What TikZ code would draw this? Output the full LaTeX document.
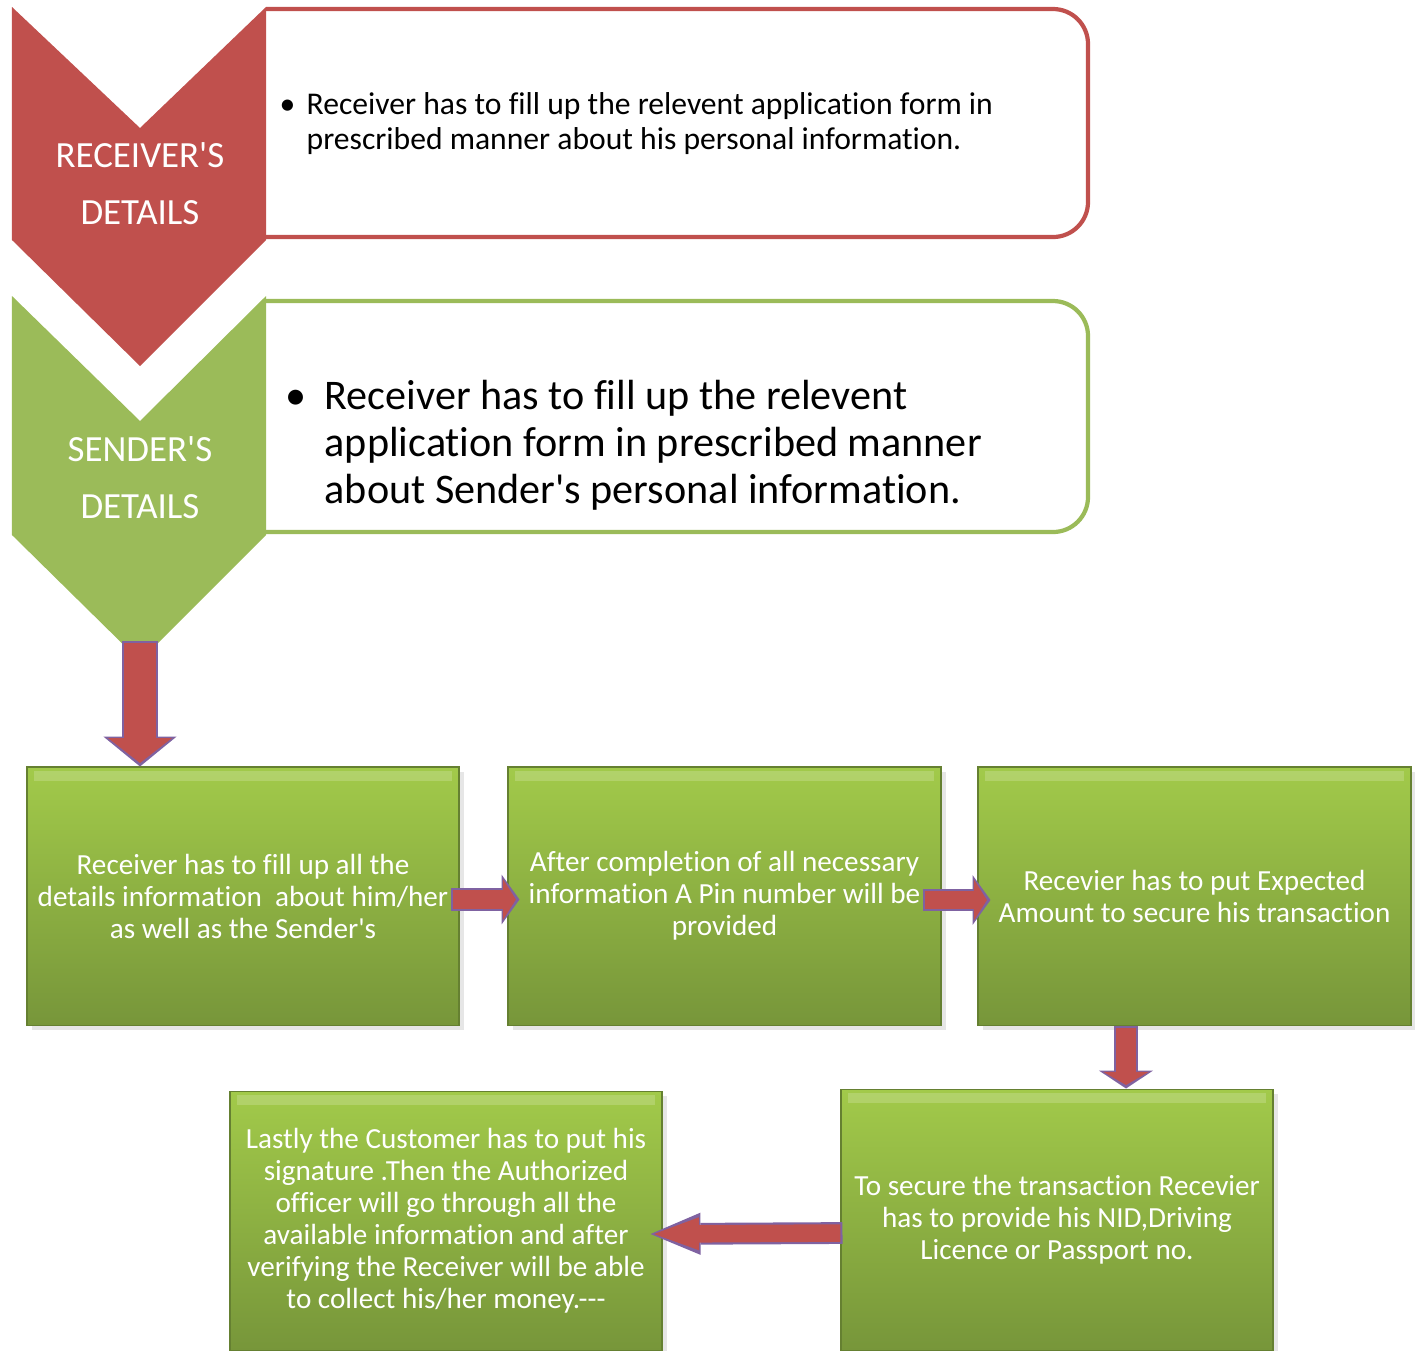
\documentclass[tikz,border=0pt]{standalone}
\usepackage{fontspec}
\setmainfont{Carlito}[Ligatures={TeXOff,NoCommon}]
\usetikzlibrary{arrows.meta,shadows}

\definecolor{recred}{HTML}{C0504D}
\definecolor{sendgreen}{HTML}{9BBB59}
\definecolor{arrowline}{HTML}{7F62A1}
\definecolor{boxtop}{HTML}{A2CA4A}
\definecolor{boxbot}{HTML}{77963A}

% block arrow: shaft, head width, head length, from, to
\newcommand{\flowarrow}[5]{%
  \pgfmathsetlengthmacro\fawid{#1-1.2pt}%
  \pgfmathsetlengthmacro\fahw{#2-2.6pt}%
  \pgfmathsetlengthmacro\fahl{#3-1.4pt}%
  \draw[arrowline, line width=#1, -{Triangle[width=#2,length=#3,line width=0pt]}] (#4) -- (#5);
  \draw[recred, line width=\fawid, shorten <=0.6pt, shorten >=1pt,
        -{Triangle[width=\fahw,length=\fahl,line width=0pt]}] (#4) -- (#5);
}

\begin{document}
\begin{tikzpicture}[x=1cm,y=-1cm]
	\tikzset{
	  stepbox/.style={rectangle, minimum width=4.32cm, minimum height=2.58cm,
	    top color=boxtop, bottom color=boxbot, draw=boxbot!85!black, line width=0.3pt,
	    text=white, align=center, inner sep=0pt, font=\fontsize{8.3}{9.1}\selectfont,
	    drop shadow={shadow xshift=1.5pt, shadow yshift=-1.5pt, opacity=0.2},
	    path picture={\fill[white, opacity=0.18]
	      ([xshift=2pt,yshift=-1pt]path picture bounding box.north west) rectangle
	      ([xshift=-2pt,yshift=-4pt]path picture bounding box.north east);}},
	  chevlabel/.style={text=white, align=center, inner sep=0pt, font=\fontsize{10.5}{16.2}\selectfont},
	  infotext/.style={anchor=west, align=left, inner sep=0pt, text=black}
	}
	\useasboundingbox (0,0) rectangle (14.15,13.5);

	% receiver's details
	\draw[recred, line width=1.2pt, rounded corners=0.35cm] (2.66,0.09) -- (10.88,0.09) -- (10.88,2.37) -- (2.66,2.37);
	\fill[recred] (0.12,0.07) -- (1.40,1.28) -- (2.66,0.07) -- (2.66,2.40) -- (1.40,3.66) -- (0.12,2.40) -- cycle;
	\node[chevlabel] (recvlabel) at (1.40,1.835) {RECEIVER'S\\DETAILS};
	\node[infotext, font=\fontsize{9}{10}\selectfont] (recvtext) at (3.06,1.235)
	  {\llap{\textbullet\hspace{0.36em}}Receiver has to fill up the relevent application form in\\prescribed manner about his personal information.};

	% sender's details
	\draw[sendgreen, line width=1.2pt, rounded corners=0.35cm] (2.66,3.01) -- (10.88,3.01) -- (10.88,5.32) -- (2.66,5.32);
	\fill[sendgreen] (0.12,2.96) -- (1.40,4.21) -- (2.66,2.96) -- (2.66,5.35) -- (1.40,6.61) -- (0.12,5.35) -- cycle;
	\node[chevlabel] (sendlabel) at (1.40,4.775) {SENDER'S\\DETAILS};
	\node[infotext, font=\fontsize{12}{13.4}\selectfont] (sendtext) at (3.24,4.45)
	  {\llap{\textbullet\hspace{0.42em}}Receiver has to fill up the relevent\\application form in prescribed manner\\about Sender's personal information.};
	\coordinate (sendtip) at (1.40,6.41);

	% steps
	\node[stepbox] (boxa) at (2.43,8.96) {Receiver has to fill up all the\\details information~ about him/her\\as well as the Sender's};
	\node[stepbox, minimum width=4.33cm] (boxb) at (7.245,8.96) {After completion of all necessary\\information A Pin number will be\\provided};
	\node[stepbox, minimum width=4.33cm] (boxc) at (11.945,8.96) {Recevier has to put Expected\\Amount to secure his transaction};
	\node[stepbox, minimum height=2.61cm] (boxd) at (10.57,12.195) {To secure the transaction Recevier\\has to provide his NID,Driving\\Licence or Passport no.};
	\node[stepbox, minimum height=2.59cm] (boxe) at (4.46,12.205) {Lastly the Customer has to put his\\signature .Then the Authorized\\officer will go through all the\\available information and after\\verifying the Receiver will be able\\to collect his/her money.---};
	\coordinate (cdx) at (11.26,0);

	% arrows
	\flowarrow{10.2pt}{20.8pt}{8.5pt}{sendtip}{sendtip |- boxa.north}
	\flowarrow{6.4pt}{14.2pt}{5.1pt}{[xshift=-0.09cm,yshift=-0.035cm]boxa.east}{[xshift=0.12cm,yshift=-0.035cm]boxb.west}
	\flowarrow{6.4pt}{14.2pt}{5.1pt}{[xshift=-0.19cm,yshift=-0.04cm]boxb.east}{[xshift=0.13cm,yshift=-0.04cm]boxc.west}
	\flowarrow{7.1pt}{15.4pt}{5.1pt}{boxc.south -| cdx}{boxd.north -| cdx}
	\flowarrow{6.2pt}{12pt}{14.2pt}{[xshift=0.02cm,yshift=-0.135cm]boxd.west}{[xshift=-0.12cm,yshift=-0.135cm]boxe.east}
\end{tikzpicture}
\end{document}
